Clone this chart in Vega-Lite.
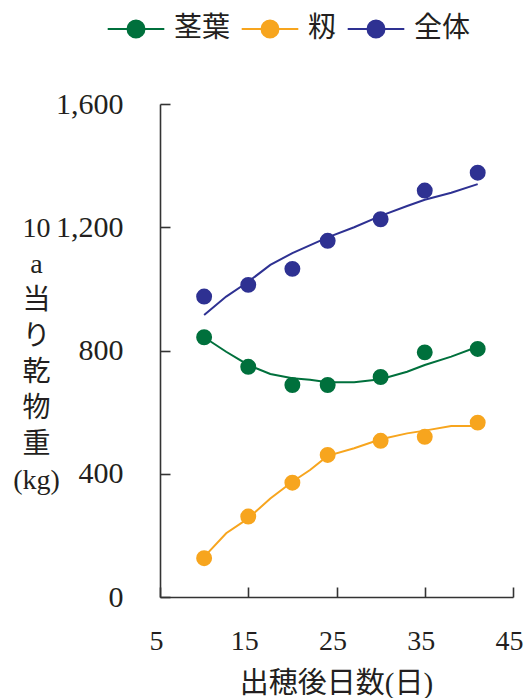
{
  "$schema": "https://vega.github.io/schema/vega-lite/v6.json",
  "width": 353,
  "height": 493,
  "autosize": "none",
  "padding": {"left": 160, "top": 104, "right": 11, "bottom": 101},
  "background": "white",
  "config": {
    "view": {"stroke": null},
    "axis": {
      "grid": false,
      "domainColor": "#333333",
      "domainWidth": 1.6,
      "tickColor": "#333333",
      "tickWidth": 1.6,
      "tickSize": -10,
      "labelFont": "Liberation Serif",
      "labelFontSize": 28,
      "labelColor": "#231f20",
      "titleFont": "'Liberation Serif', 'Noto Sans CJK JP'",
      "titleFontSize": 27,
      "titleFontWeight": "normal",
      "titleColor": "#231f20"
    }
  },
  "datasets": {
    "obs": [
      {"day": 10, "value": 843, "part": "茎葉"},
      {"day": 15, "value": 747, "part": "茎葉"},
      {"day": 20, "value": 688, "part": "茎葉"},
      {"day": 24, "value": 688, "part": "茎葉"},
      {"day": 30, "value": 714, "part": "茎葉"},
      {"day": 35, "value": 794, "part": "茎葉"},
      {"day": 41, "value": 805, "part": "茎葉"},
      {"day": 10, "value": 126, "part": "籾"},
      {"day": 15, "value": 261, "part": "籾"},
      {"day": 20, "value": 371, "part": "籾"},
      {"day": 24, "value": 461, "part": "籾"},
      {"day": 30, "value": 507, "part": "籾"},
      {"day": 35, "value": 520, "part": "籾"},
      {"day": 41, "value": 566, "part": "籾"},
      {"day": 10, "value": 975, "part": "全体"},
      {"day": 15, "value": 1013, "part": "全体"},
      {"day": 20, "value": 1065, "part": "全体"},
      {"day": 24, "value": 1156, "part": "全体"},
      {"day": 30, "value": 1226, "part": "全体"},
      {"day": 35, "value": 1319, "part": "全体"},
      {"day": 41, "value": 1377, "part": "全体"}
    ],
    "fit": [
      {"day": 10, "value": 843, "part": "茎葉"},
      {"day": 12.5, "value": 796, "part": "茎葉"},
      {"day": 15, "value": 753, "part": "茎葉"},
      {"day": 17.5, "value": 724, "part": "茎葉"},
      {"day": 20, "value": 710, "part": "茎葉"},
      {"day": 22, "value": 705, "part": "茎葉"},
      {"day": 24, "value": 697, "part": "茎葉"},
      {"day": 27, "value": 697, "part": "茎葉"},
      {"day": 30, "value": 707, "part": "茎葉"},
      {"day": 33, "value": 731, "part": "茎葉"},
      {"day": 35, "value": 753, "part": "茎葉"},
      {"day": 38, "value": 780, "part": "茎葉"},
      {"day": 41, "value": 812, "part": "茎葉"},
      {"day": 10, "value": 130, "part": "籾"},
      {"day": 12.5, "value": 207, "part": "籾"},
      {"day": 15, "value": 255, "part": "籾"},
      {"day": 17.5, "value": 320, "part": "籾"},
      {"day": 20, "value": 374, "part": "籾"},
      {"day": 22, "value": 412, "part": "籾"},
      {"day": 24, "value": 458, "part": "籾"},
      {"day": 27, "value": 483, "part": "籾"},
      {"day": 30, "value": 512, "part": "籾"},
      {"day": 33, "value": 531, "part": "籾"},
      {"day": 35, "value": 540, "part": "籾"},
      {"day": 38, "value": 555, "part": "籾"},
      {"day": 41, "value": 555, "part": "籾"},
      {"day": 10, "value": 915, "part": "全体"},
      {"day": 12.5, "value": 975, "part": "全体"},
      {"day": 15, "value": 1023, "part": "全体"},
      {"day": 17.5, "value": 1078, "part": "全体"},
      {"day": 20, "value": 1116, "part": "全体"},
      {"day": 24, "value": 1167, "part": "全体"},
      {"day": 27, "value": 1200, "part": "全体"},
      {"day": 30, "value": 1237, "part": "全体"},
      {"day": 33, "value": 1269, "part": "全体"},
      {"day": 35, "value": 1289, "part": "全体"},
      {"day": 38, "value": 1312, "part": "全体"},
      {"day": 41, "value": 1340, "part": "全体"}
    ]
  },
  "encoding": {
    "x": {
      "field": "day", "type": "quantitative",
      "scale": {"domain": [5, 45], "nice": false, "zero": false},
      "axis": {
        "values": [5, 15, 25, 35, 45],
        "labelFlush": false,
        "labelOffset": -4,
        "labelPadding": 40,
        "title": "出穂後日数(日)",
        "titleFontSize": 29,
        "titleBaseline": "middle",
        "titleY": 86,
        "titleX": 176
      }
    },
    "y": {
      "field": "value", "type": "quantitative",
      "scale": {"domain": [0, 1600], "nice": false},
      "axis": {
        "values": [0, 400, 800, 1200, 1600],
        "format": ",d",
        "labelFontSize": 30,
        "labelPadding": 47,
        "title": ["10", "a", "当", "り", "乾", "物", "重", "(kg)"],
        "titleAngle": 0,
        "titleAlign": "center",
        "titleBaseline": "top",
        "titleLineHeight": 36,
        "titleFontSize": 28,
        "titleX": -124,
        "titleY": 110
      }
    },
    "color": {
      "field": "part", "type": "nominal",
      "scale": {"domain": ["茎葉", "籾", "全体"], "range": ["#00703c", "#f7a51e", "#2e3192"]},
      "legend": {
        "orient": "none",
        "legendX": -38,
        "legendY": -89,
        "direction": "horizontal",
        "title": null,
        "padding": 0,
        "labelFont": "'Liberation Serif', 'Noto Sans CJK JP'",
        "labelFontSize": 28,
        "labelColor": "#231f20",
        "labelLimit": 300,
        "labelOffset": 24,
        "columnPadding": 6,
        "symbolType": "M-3.33,0H3.33M-1,0A1,1,0,1,0,1,0A1,1,0,1,0,-1,0Z",
        "symbolSize": 289,
        "symbolStrokeWidth": 2,
        "symbolOpacity": 1,
        "encode": {
          "symbols": {
            "update": {
              "fill": {"scale": "color", "field": "value"},
              "stroke": {"scale": "color", "field": "value"},
              "opacity": {"value": 1}
            }
          }
        }
      }
    }
  },
  "layer": [
    {
      "data": {"name": "fit"},
      "mark": {"type": "line", "strokeWidth": 2}
    },
    {
      "data": {"name": "obs"},
      "mark": {"type": "point", "filled": true, "size": 254, "opacity": 1}
    }
  ]
}
